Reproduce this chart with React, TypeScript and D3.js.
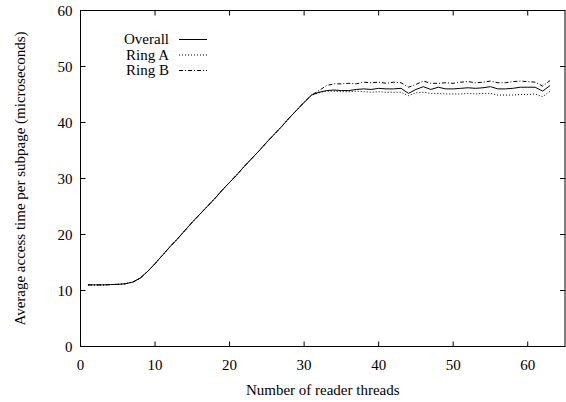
import React from 'react';
import { scaleLinear, line } from 'd3';

// reader thread counts 1..63
const threads = [
  1, 2, 3, 4, 5, 6, 7, 8, 9, 10, 11, 12, 13, 14, 15, 16, 17, 18, 19, 20, 21,
  22, 23, 24, 25, 26, 27, 28, 29, 30, 31, 32, 33, 34, 35, 36, 37, 38, 39, 40,
  41, 42, 43, 44, 45, 46, 47, 48, 49, 50, 51, 52, 53, 54, 55, 56, 57, 58, 59,
  60, 61, 62, 63,
];

const overall = [
  11.0, 11.0, 11.0, 11.05, 11.1, 11.2, 11.5, 12.2, 13.4, 14.8, 16.3, 17.8,
  19.2, 20.7, 22.2, 23.6, 25.0, 26.4, 27.9, 29.3, 30.7, 32.2, 33.6, 35.0, 36.5,
  37.9, 39.3, 40.8, 42.2, 43.6, 44.9, 45.4, 45.7, 45.8, 45.7, 45.7, 45.9, 46.0,
  45.9, 46.1, 46.0, 46.0, 46.1, 45.2, 45.9, 46.4, 45.9, 46.3, 46.0, 46.0, 46.1,
  46.2, 46.1, 46.2, 46.4, 46.0, 46.0, 46.1, 46.3, 46.3, 46.3, 45.6, 46.6,
];

const ringA = [
  11.0, 11.0, 11.0, 11.05, 11.1, 11.2, 11.5, 12.2, 13.4, 14.8, 16.3, 17.8,
  19.2, 20.7, 22.2, 23.6, 25.0, 26.4, 27.9, 29.3, 30.7, 32.2, 33.6, 35.0, 36.5,
  37.9, 39.3, 40.8, 42.2, 43.6, 44.9, 45.3, 45.6, 45.6, 45.5, 45.5, 45.6, 45.5,
  45.4, 45.5, 45.4, 45.4, 45.4, 44.8, 45.3, 45.4, 45.2, 45.2, 45.1, 45.1, 45.1,
  45.2, 45.1, 45.2, 45.2, 44.9, 44.9, 44.9, 45.0, 45.0, 45.1, 44.6, 45.6,
];

const ringB = [
  11.0, 11.0, 11.0, 11.05, 11.1, 11.2, 11.5, 12.2, 13.4, 14.8, 16.3, 17.8,
  19.2, 20.7, 22.2, 23.6, 25.0, 26.4, 27.9, 29.3, 30.7, 32.2, 33.6, 35.0, 36.5,
  37.9, 39.3, 40.8, 42.2, 43.6, 44.9, 45.7, 46.6, 46.9, 46.9, 47.0, 46.9, 47.2,
  47.1, 47.2, 47.0, 47.2, 47.1, 46.3, 46.8, 47.4, 47.0, 47.0, 47.1, 47.0, 47.2,
  47.3, 47.1, 47.2, 47.4, 47.1, 47.1, 47.3, 47.4, 47.3, 47.2, 46.5, 47.5,
];

const xTicks = [0, 10, 20, 30, 40, 50, 60];
const yTicks = [0, 10, 20, 30, 40, 50, 60];

const series = [
  { name: 'Overall', values: overall, dash: undefined },
  { name: 'Ring A', values: ringA, dash: '1,2' },
  { name: 'Ring B', values: ringB, dash: '4,2,1,2' },
];

const width = 566;
const height = 402;
const left = 80.5;
const right = 565;
const top = 10.5;
const bottom = 346.5;
const txt = { fontFamily: 'Liberation Serif, Times New Roman, serif', fontSize: 15 };

const App = () => {
  const x = scaleLinear().domain([0, 65]).range([left, right]);
  const y = scaleLinear().domain([0, 60]).range([bottom, top]);

  const makeLine = (vals: number[]) =>
    line<number>()
      .x((_, i) => x(threads[i]))
      .y((d) => y(d))(vals) || '';

  return (
    <svg
      width={width}
      height={height}
      style={{ position: 'absolute', left: 0, top: 0, background: '#fff' }}
    >
      {/* ticks, mirrored top/right like gnuplot */}
      {xTicks.map((t) => (
        <g key={'x' + t}>
          <line x1={x(t)} x2={x(t)} y1={bottom} y2={bottom - 5} stroke="#000" />
          <line x1={x(t)} x2={x(t)} y1={top} y2={top + 5} stroke="#000" />
          <text x={x(t)} y={bottom + 23} textAnchor="middle" style={txt}>
            {t}
          </text>
        </g>
      ))}
      {yTicks.map((t) => (
        <g key={'y' + t}>
          <line x1={left} x2={left + 5} y1={y(t)} y2={y(t)} stroke="#000" />
          <line x1={right} x2={right - 5} y1={y(t)} y2={y(t)} stroke="#000" />
          <text x={left - 8} y={y(t) + 5} textAnchor="end" style={txt}>
            {t}
          </text>
        </g>
      ))}
      <rect
        x={left}
        y={top}
        width={right - left}
        height={bottom - top}
        fill="none"
        stroke="#000"
      />

      {series.map((s) => (
        <path
          key={s.name}
          d={makeLine(s.values)}
          fill="none"
          stroke="#000"
          strokeWidth={1}
          strokeDasharray={s.dash}
        />
      ))}

      {/* legend */}
      {series.map((s, i) => (
        <g key={'leg' + s.name}>
          <text x={169} y={44 + i * 15.5} textAnchor="end" style={txt}>
            {s.name}
          </text>
          <line
            x1={179}
            x2={207}
            y1={39.5 + i * 15.5}
            y2={39.5 + i * 15.5}
            stroke="#000"
            strokeDasharray={s.dash}
          />
        </g>
      ))}

      <text x={(left + right) / 2} y={395} textAnchor="middle" style={txt}>
        Number of reader threads
      </text>
      <text
        transform={`translate(25,${(top + bottom) / 2}) rotate(-90)`}
        textAnchor="middle"
        style={txt}
      >
        Average access time per subpage (microseconds)
      </text>
    </svg>
  );
};

export default App;
